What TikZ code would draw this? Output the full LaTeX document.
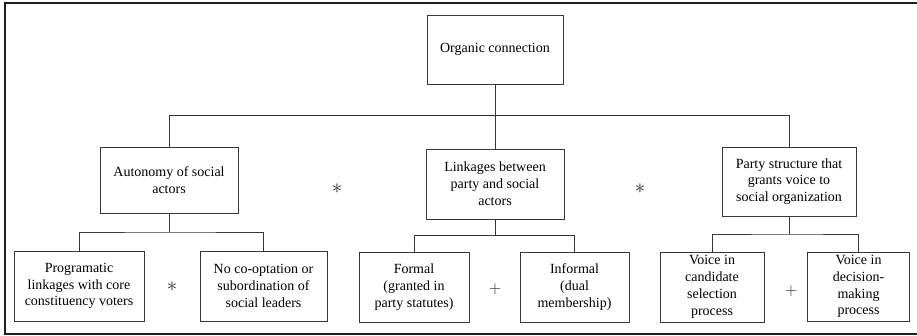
\documentclass[tikz,border=0pt]{standalone}
\usepackage{fontspec}
\setmainfont{Liberation Serif}
\usetikzlibrary{positioning,calc}
\definecolor{boxline}{rgb}{0.22,0.22,0.22}
\definecolor{frameline}{rgb}{0.12,0.12,0.12}

\begin{document}
\begin{tikzpicture}[
  x=1pt, y=-1pt,
  font=\fontsize{14}{16.8}\selectfont,
  box/.style={draw=boxline, line width=0.9pt, align=center, inner sep=1pt,
              minimum height=70pt},
  link/.style={draw=boxline, line width=0.9pt},
  op/.style={inner sep=0pt, text=black!85, font=\fontsize{21}{21}\selectfont}
]
\useasboundingbox (0,0) rectangle (917,336);

% --- outer frame (right side runs off the page) ---
\draw[frameline, line width=1.1pt] (917,3) -- (5,3) -- (5,334) -- (917,334);

% --- top ---
\node[box, minimum width=136pt, minimum height=69pt] (org) at (495,49.5) {Organic connection};

% --- second level ---
\node[box, minimum width=138pt, minimum height=66pt] (aut) at (169,180)
  {Autonomy of social\\ actors};
\node[box, minimum width=138pt] (lnk) at (495,184)
  {Linkages between\\ party and social\\ actors};
\node[box, minimum width=134pt, minimum height=69pt] (par) at (789,181.5)
  {Party structure that\\ grants voice to\\ social organization};

\node[op] (s1) at (337,189) {$\ast$};
\node[op] (s2) at (640,189) {$\ast$};

% --- third level ---
\node[box, minimum width=130pt] (prg) at (79,286)
  {Programatic\\ linkages with core\\ constituency voters};
\node[box, minimum width=127pt] (coo) at (263.5,286)
  {No co-optation or\\ subordination of\\ social leaders};
\node[box, minimum width=110pt] (frm) at (414,287)
  {Formal\\ (granted in\\ party statutes)};
\node[box, minimum width=109pt] (inf) at (574.5,287)
  {Informal\\ (dual\\ membership)};
\node[box, minimum width=104pt] (cnd) at (712,287)
  {Voice in\\ candidate\\ selection\\ process};
\node[box, minimum width=102pt, minimum height=69pt] (dec) at (858.5,286.5)
  {Voice in\\ decision-\\ making\\ process};

\node[op] (s3) at (172,287) {$\ast$};
\node[op, font=\fontsize{17}{17}\selectfont] (p1) at (495,289) {$+$};
\node[op, font=\fontsize{17}{17}\selectfont] (p2) at (791,291) {$+$};

% --- tree lines ---
\foreach \p/\a/\b in {org/aut/par, aut/prg/coo, lnk/frm/inf, par/cnd/dec} {
  \coordinate (\p-bus) at ($(\p.south)!.5!(\p.south |- \a.north)$);
  \draw[link] (\p.south) -- (\p-bus);
  \draw[link] (\a.north) |- (\p-bus) -| (\b.north);
}
\draw[link] (org.south) -- (lnk.north);

\end{tikzpicture}
\end{document}
